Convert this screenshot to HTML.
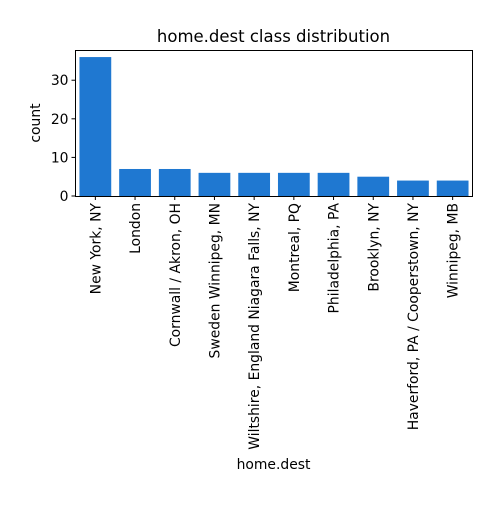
<!DOCTYPE html>
<html><head><meta charset="utf-8"><style>
body{margin:0;background:#fff;}
svg{font-family:"DejaVu Sans","Liberation Sans",sans-serif;}
</style></head><body>
<svg id="chart" width="500" height="500">
<rect x="0" y="0" width="500" height="500" fill="#fff"/>
<text x="273.5" y="42" font-size="16.5" text-anchor="middle">home.dest class distribution</text>
<text x="273.5" y="469" font-size="13.9" text-anchor="middle">home.dest</text>
<text transform="translate(40,123) rotate(-90)" font-size="13.9" text-anchor="middle">count</text>
<g id="bars"></g><g id="xticks"></g><g id="yticks"></g>
<rect x="75.5" y="50.5" width="397" height="146" fill="none" stroke="#000" stroke-width="1"/>
</svg>
<script>
const categories=["New York, NY","London","Cornwall / Akron, OH","Sweden Winnipeg, MN","Wiltshire, England Niagara Falls, NY","Montreal, PQ","Philadelphia, PA","Brooklyn, NY","Haverford, PA / Cooperstown, NY","Winnipeg, MB"];
const counts=[36,7,7,6,6,6,6,5,4,4];
const yTicks=[0,10,20,30];
const NS="http://www.w3.org/2000/svg";
const L=75.5,R=472.5,T=50.5,B=196;
const yMax=37.7;
const unit=(R-L)/categories.length;
function xs(i){return L+(i+0.5)*unit;}
function ys(v){return B-v/yMax*(B-T);}
const bw=0.8*unit;
const gb=document.getElementById('bars'),gx=document.getElementById('xticks'),gy=document.getElementById('yticks');
counts.forEach((v,i)=>{
 const r=document.createElementNS(NS,'rect');
 r.setAttribute('x',xs(i)-bw/2);r.setAttribute('y',ys(v));r.setAttribute('width',bw);r.setAttribute('height',B-ys(v));r.setAttribute('fill','#1f78d1');
 
 
 gb.appendChild(r);
});
categories.forEach((c,i)=>{
 const l=document.createElementNS(NS,'line');
 l.setAttribute('x1',xs(i));l.setAttribute('x2',xs(i));l.setAttribute('y1',B);l.setAttribute('y2',B+4);l.setAttribute('stroke','#000');
 
 
 gx.appendChild(l);
 const t=document.createElementNS(NS,'text');
 t.setAttribute('transform','translate('+(xs(i)+5)+','+(B+7)+') rotate(-90)');
 t.setAttribute('font-size','13.9');t.setAttribute('text-anchor','end');t.textContent=c;
 
 
 gx.appendChild(t);
});
yTicks.forEach(v=>{
 const l=document.createElementNS(NS,'line');
 l.setAttribute('x1',L-4);l.setAttribute('x2',L);l.setAttribute('y1',ys(v));l.setAttribute('y2',ys(v));l.setAttribute('stroke','#000');
 
 
 gy.appendChild(l);
 const t=document.createElementNS(NS,'text');
 t.setAttribute('x',L-7);t.setAttribute('y',ys(v)+5);t.setAttribute('font-size','13.9');t.setAttribute('text-anchor','end');t.textContent=v;
 
 
 gy.appendChild(t);
});
</script>
</body></html>
